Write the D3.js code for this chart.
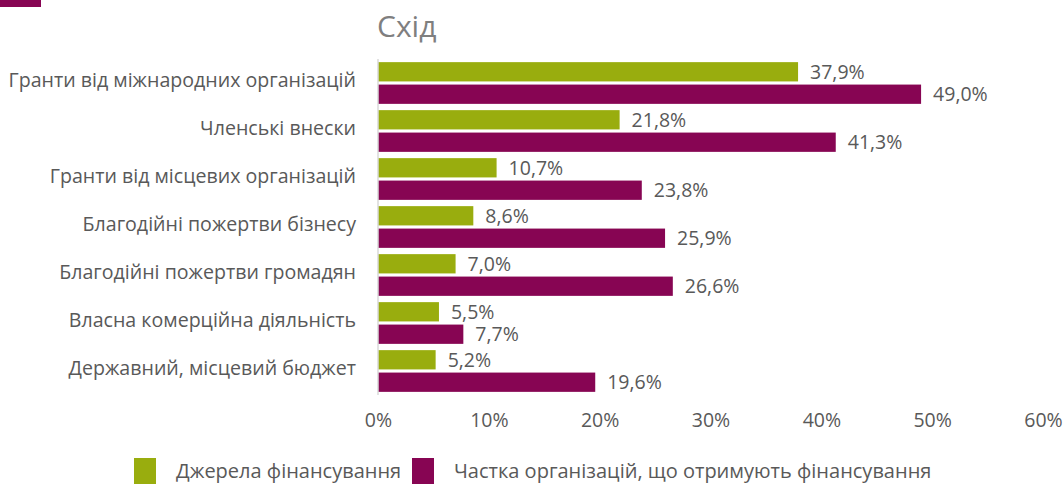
<!DOCTYPE html>
<html>
<head>
<meta charset="utf-8">
<script src="https://cdn.jsdelivr.net/npm/d3@7"></script>
<style>
  body { margin: 0; background: #fff; }
  text { font-family: "Open Sans", "Noto Sans", sans-serif; }
</style>
</head>
<body>
<svg id="chart" width="1064" height="484"></svg>
<script>
// data
var categories = [
  'Гранти від міжнародних організацій',
  'Членські внески',
  'Гранти від місцевих організацій',
  'Благодійні пожертви бізнесу',
  'Благодійні пожертви громадян',
  'Власна комерційна діяльність',
  'Державний, місцевий бюджет'
];
var sources = [37.9, 21.8, 10.7, 8.6, 7.0, 5.5, 5.2];
var shares = [49.0, 41.3, 23.8, 25.9, 26.6, 7.7, 19.6];
var seriesNames = ['Джерела фінансування', 'Частка організацій, що отримують фінансування'];
var tickValues = [0, 10, 20, 30, 40, 50, 60];

var colors = ['#99ad0e', '#870553'];
var textColor = '#595959';

var svg = d3.select('#chart');
// note: "top" is taken by window.top, so plot bounds get their own names
var plotL = 378, plotR = 1043, plotT = 59, plotB = 395;

var x = d3.scaleLinear().domain([0, 60]).range([plotL, plotR]);
var y = d3.scaleBand().domain(categories).range([plotT, plotB]).paddingInner(0).paddingOuter(0);
var inner = d3.scaleBand().domain([0, 1]).range([0, y.bandwidth()]).paddingInner(0.14).paddingOuter(0.14);

function fmt(v) {
  return v.toFixed(1).replace('.', ',') + '%';
}

// corner marker
svg.append('rect').attr('x', 0).attr('y', 0).attr('width', 41).attr('height', 7).attr('fill', colors[1]);

// title
svg.append('text')
  .attr('x', 377).attr('y', 37)
  .attr('font-size', 30)
  .attr('fill', '#7f7f7f')
  .text('Схід');

// x axis labels
var xAxis = d3.axisBottom(x)
  .tickValues(tickValues)
  .tickFormat(function(d) { return d + '%'; })
  .tickSize(0)
  .tickPadding(0);

var gx = svg.append('g')
  .attr('transform', 'translate(0,' + (plotB + 18) + ')')
  .call(xAxis);
gx.select('.domain').remove();
gx.selectAll('text')
  .attr('font-size', 19.5)
  .attr('fill', textColor)
  .attr('font-family', '"Open Sans", "Noto Sans", sans-serif');

// category labels
svg.append('g').selectAll('text')
  .data(categories)
  .enter().append('text')
  .attr('x', 356)
  .attr('y', function(d) { return y(d) + y.bandwidth() / 2 - 3; })
  .attr('dy', '0.35em')
  .attr('text-anchor', 'end')
  .attr('font-size', 19.6)
  .attr('fill', textColor)
  .text(function(d) { return d; });

// bars
var series = [sources, shares];
series.forEach(function(vals, si) {
  var g = svg.append('g');
  g.selectAll('rect')
    .data(vals)
    .enter().append('rect')
    .attr('x', x(0))
    .attr('y', function(d, i) { return y(categories[i]) + inner(si); })
    .attr('width', function(d) { return x(d) - x(0); })
    .attr('height', inner.bandwidth())
    .attr('fill', colors[si]);

  g.selectAll('text')
    .data(vals)
    .enter().append('text')
    .attr('x', function(d) { return x(d) + 12; })
    .attr('y', function(d, i) { return y(categories[i]) + inner(si) + inner.bandwidth() / 2; })
    .attr('dy', '0.35em')
    .attr('font-size', 19.5)
    .attr('fill', textColor)
    .text(fmt);
});

// axis line
svg.append('line')
  .attr('x1', x(0)).attr('x2', x(0))
  .attr('y1', plotT).attr('y2', plotB)
  .attr('stroke', '#d9d9d9')
  .attr('stroke-width', 1.5);

// legend
var legendX = [134, 412];
var legend = svg.append('g').selectAll('g')
  .data(seriesNames)
  .enter().append('g')
  .attr('transform', function(d, i) { return 'translate(' + legendX[i] + ',458)'; });
legend.append('rect')
  .attr('width', 22).attr('height', 26)
  .attr('fill', function(d, i) { return colors[i]; });
legend.append('text')
  .attr('x', 42).attr('y', 13)
  .attr('dy', '0.35em')
  .attr('font-size', 20)
  .attr('fill', textColor)
  .text(function(d) { return d; });
</script>
</body>
</html>
